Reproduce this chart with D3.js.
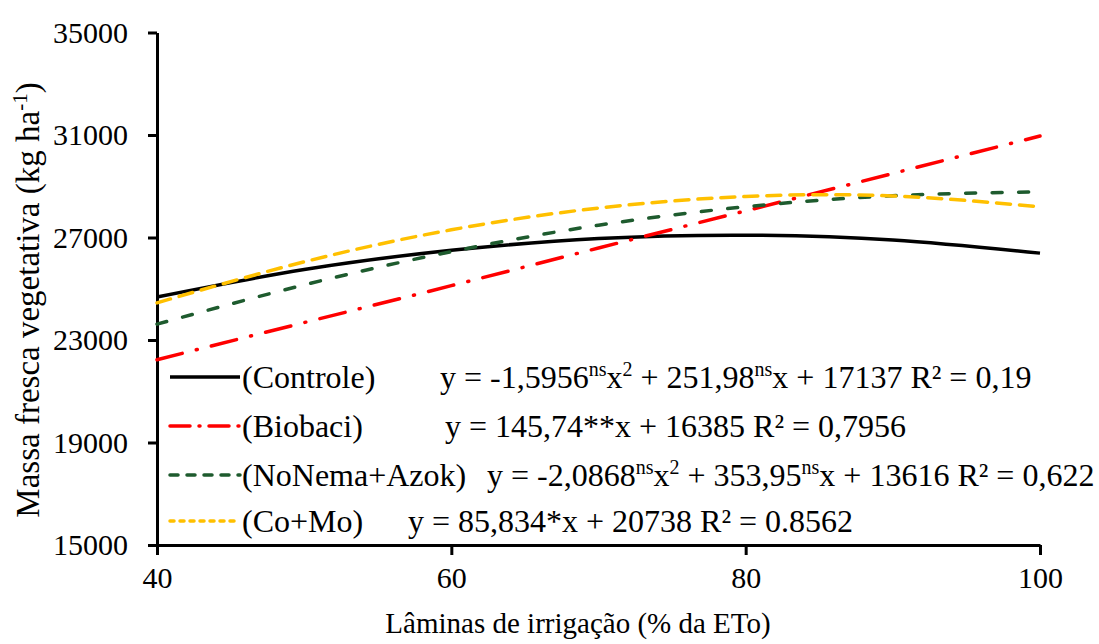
<!DOCTYPE html>
<html>
<head>
<meta charset="utf-8">
<script src="https://cdn.jsdelivr.net/npm/d3@7"></script>
<style>
  html, body { margin: 0; padding: 0; background: #fff; }
  svg { display: block; }
</style>
</head>
<body>
<svg id="chart" width="1099" height="644"></svg>
<script>
// irrigation levels (% ETo)
const laminas = [40, 50, 60, 70, 80, 90, 100]

// values (kg/ha)
const controle = [24680, 25750, 26500, 26960, 27090, 26900, 26390]
const biobaci = [22230, 23680, 25120, 26590, 28040, 29500, 30960]
const noNemaAzok = [23620, 25150, 26450, 27480, 28200, 28630, 28780]
const coMo = [24450, 26050, 27300, 28150, 28600, 28620, 28200]

const xTicks = [40, 60, 80, 100]
const yTicks = [15000, 19000, 23000, 27000, 31000, 35000]

const seriesNames = ["(Controle)", "(Biobaci)", "(NoNema+Azok)", "(Co+Mo)"]

// equations, split into [text, isSuperscript]
const equations = [
    [["y = -1,5956", 0], ["ns", 1], ["x", 0], ["2", 1], [" + 251,98", 0], ["ns", 1], ["x + 17137 R² = 0,19", 0]],
    [["y = 145,74**x + 16385 R² = 0,7956", 0]],
    [["y = -2,0868", 0], ["ns", 1], ["x", 0], ["2", 1], [" + 353,95", 0], ["ns", 1], ["x + 13616 R² = 0,622", 0]],
    [["y = 85,834*x + 20738 R² = 0.8562", 0]]
]

const FONT = "Liberation Serif"

const styles = [
    { color: "#000000", dash: null, legendDash: null },
    { color: "#ff0000", dash: "26,14.5,1,14.5", legendDash: "20,9,1,9" },
    { color: "#1e5b2e", dash: "10,16.5", legendDash: "8,9" },
    { color: "#ffc000", dash: "14,9", legendDash: "4,6" }
]

const series = [controle, biobaci, noNemaAzok, coMo]

const svg = d3.select("#chart").attr("font-family", FONT)

const margin = { left: 157, right: 59, top: 32.5, bottom: 99 }
const width = 1099 - margin.left - margin.right,
    height = 644 - margin.top - margin.bottom

const g = svg.append("g")
    .attr("transform", "translate(" + margin.left + "," + margin.top + ")")

const x = d3.scaleLinear().domain([40, 100]).range([0, width])
const y = d3.scaleLinear().domain([15000, 35000]).range([height, 0])

// X axis
const xAxis = g.append("g")
    .attr("transform", "translate(0," + height + ")")
    .call(d3.axisBottom(x).tickValues(xTicks).tickFormat(d3.format("d"))
        .tickSize(10).tickPadding(12).tickSizeOuter(0))
xAxis.attr("font-family", FONT)
xAxis.select(".domain").attr("stroke-width", 3)
xAxis.selectAll(".tick line").attr("stroke-width", 3)
xAxis.selectAll(".tick text")
    .attr("font-family", FONT)
    .attr("font-size", 30)
    .attr("fill", "#000")

// Y axis
const yAxis = g.append("g")
    .call(d3.axisLeft(y).tickValues(yTicks).tickFormat(d3.format("d"))
        .tickSize(9).tickPadding(20).tickSizeOuter(0))
yAxis.attr("font-family", FONT)
yAxis.select(".domain").attr("stroke-width", 3)
yAxis.selectAll(".tick line").attr("stroke-width", 3)
yAxis.selectAll(".tick text")
    .attr("font-family", FONT)
    .attr("font-size", 30)
    .attr("fill", "#000")

// axis titles
svg.append("text")
    .attr("x", 578)
    .attr("y", 633)
    .attr("text-anchor", "middle")
    .attr("font-family", FONT)
    .attr("font-size", 29)
    .text("Lâminas de irrigação (% da ETo)")

const yTitle = svg.append("text")
    .attr("transform", "translate(39,300) rotate(-90)")
    .attr("text-anchor", "middle")
    .attr("font-family", FONT)
    .attr("font-size", 33)
yTitle.append("tspan").text("Massa fresca vegetativa (kg ha")
yTitle.append("tspan").attr("dy", -12).attr("font-size", 21).text("-1")
yTitle.append("tspan").attr("dy", 12).text(")")

// curves
const line = d3.line()
    .x(function(d, i) { return x(laminas[i]) })
    .y(function(d) { return y(d) })
    .curve(d3.curveNatural)

series.forEach(function(s, i) {
    g.append("path")
        .datum(s)
        .attr("fill", "none")
        .attr("stroke", styles[i].color)
        .attr("stroke-width", 3.5)
        .attr("stroke-linecap", styles[i].dash ? "round" : "butt")
        .attr("stroke-dasharray", styles[i].dash)
        .attr("d", line)
})

// legend + equations
const legendY = [377, 426, 475, 521]
const eqX = [440, 445, 487, 408]

seriesNames.forEach(function(name, i) {
    svg.append("line")
        .attr("x1", 170).attr("x2", 240)
        .attr("y1", legendY[i]).attr("y2", legendY[i])
        .attr("stroke", styles[i].color)
        .attr("stroke-width", 3.5)
        .attr("stroke-linecap", styles[i].legendDash ? "round" : "butt")
        .attr("stroke-dasharray", styles[i].legendDash)

    svg.append("text")
        .attr("x", 242)
        .attr("y", legendY[i] + 11)
        .attr("font-family", FONT)
        .attr("font-size", 32)
        .text(name)

    const t = svg.append("text")
        .attr("x", eqX[i])
        .attr("y", legendY[i] + 11)
        .attr("font-family", FONT)
        .attr("font-size", 32)
    let up = false
    equations[i].forEach(function(part) {
        const sp = t.append("tspan").text(part[0])
        if (part[1]) {
            sp.attr("font-size", 20)
            if (!up) { sp.attr("dy", -12); up = true }
        } else if (up) {
            sp.attr("dy", 12); up = false
        }
    })
})
</script>
</body>
</html>
